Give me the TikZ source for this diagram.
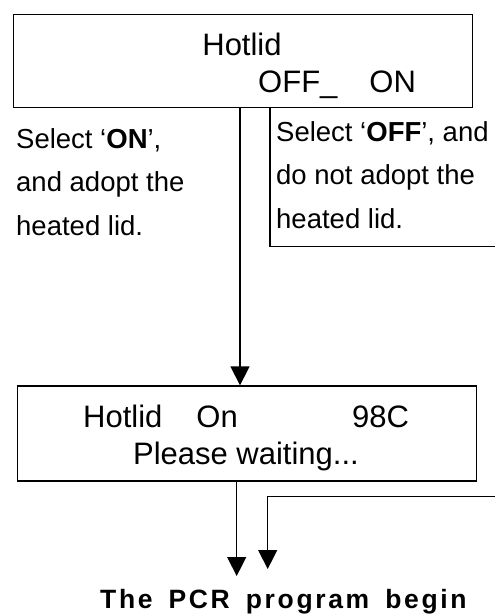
\documentclass[tikz,border=0pt]{standalone}
\usepackage{fontspec}
\setmainfont{Liberation Sans}
\newfontfamily\pcrfont[LetterSpace=10, WordSpace=1.6]{Liberation Sans}
\usetikzlibrary{arrows.meta, positioning}
\tikzset{
  lineK/.style={line width=1.3pt},
  arrowK/.style={-{Triangle[length=19pt, width=19pt]}, line width=1.3pt},
  boxLCD/.style={rectangle, draw, line width=1.3pt, minimum width=459pt,
                 minimum height=93pt, inner sep=0pt},
  lcdText/.style={font=\fontsize{31}{37}\selectfont, inner sep=0pt},
  noteText/.style={font=\fontsize{27.5}{43.5}\selectfont, align=left, inner sep=0pt},
  pcrText/.style={font=\pcrfont\fontsize{26.5}{30}\selectfont\bfseries, inner sep=0pt},
}

\begin{document}
\begin{tikzpicture}[x=1pt, y=-1pt]
    \useasboundingbox (0,0) rectangle (495,614);
    \node[boxLCD] (lid) at (242.8,60.7) {};
    \node[lcdText, anchor=base] (lidName) at (242,55) {Hotlid};
    \node[lcdText, anchor=base west] (lidSel) at (258,92) {OFF\_\hspace{32pt}ON};
    \node[noteText, anchor=base west] (noteOn) at (16,235)
          {Select `\textbf{ON}',\\and adopt the\\heated lid.};
    \node[noteText, anchor=base west] (noteOff) at (276,228)
          {Select `\textbf{OFF}', and\\do not adopt the\\heated lid.};
    \node[boxLCD, minimum height=95pt] (wait) at (247,433.5) {};
    \node[lcdText, anchor=base west] (waitHot) at (83,427) {Hotlid\hspace{34pt}On};
    \node[lcdText, anchor=base west] (waitTemp) at (352,427) {98C};
    \node[lcdText, anchor=base] (waitMsg) at (246,464) {Please waiting...};
    \node[pcrText, anchor=base west] (pcr) at (100,608) {The PCR program begin};
    \coordinate (offEnd) at (495,246.7);
    \coordinate (onEnd) at (495,496.7);
    \coordinate (tipA) at (236.7,576);
    \coordinate (tipB) at (267.7,569);
    \draw[arrowK] ([xshift=-2.8pt]lid.south) -- ([xshift=-2.8pt]lid.south |- wait.north);
    \draw[lineK] ([xshift=27.2pt]lid.south) |- (offEnd);
    \draw[arrowK] (wait.south -| tipA) -- (tipA);
    \draw[arrowK] (onEnd) -| (tipB);
\end{tikzpicture}
\end{document}
